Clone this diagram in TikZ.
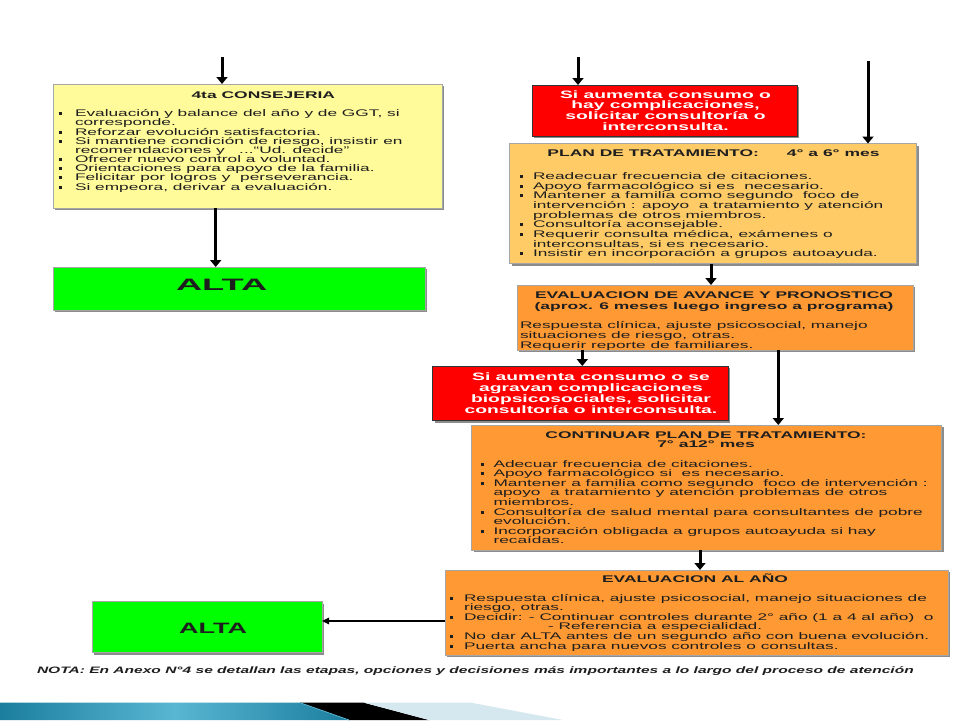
\documentclass[tikz,border=0pt]{standalone}
\usepackage{fontspec}
\setmainfont{Liberation Sans}
\newfontfamily\wf[FakeStretch=1.8]{Liberation Sans}
\newfontfamily\wfw[FakeStretch=2.2]{Liberation Sans}
\newfontfamily\wfn[FakeStretch=1.67]{Liberation Sans}
\usetikzlibrary{arrows.meta,shadows}
\definecolor{yel}{HTML}{FFFA9A}
\definecolor{lor}{HTML}{FFCB66}
\definecolor{org}{HTML}{FF9933}
\definecolor{rd}{HTML}{FF0000}
\definecolor{grn}{HTML}{00FF00}
\definecolor{txt}{HTML}{1E1E1E}
\definecolor{teal1}{HTML}{1C7E9E}
\definecolor{teal2}{HTML}{58B6D2}
\definecolor{pale}{HTML}{D6E8EF}
\newcommand\bul[1]{\makebox[#1][l]{\rule[1.4pt]{3.2pt}{3pt}}}
\newcommand\cnt[1]{\hspace*{#1}}
\newcommand\bodyfont{\wf\fontsize{9.6}{9.6}\selectfont}
\begin{document}
\begin{tikzpicture}[x=1pt,y=-1pt,
  box/.style={anchor=north west, inner sep=0, outer sep=0, draw=gray!70, line width=0.8pt,
    drop shadow={shadow xshift=2.2pt, shadow yshift=-2.2pt, fill=black, opacity=0.45}},
  redbox/.style={box, fill=rd, draw=black!80},
  txtn/.style={inner sep=0, outer sep=0, anchor=base west, text=txt, font=\bodyfont},
  ttl/.style={inner sep=0, outer sep=0, anchor=base, text=txt,
    font=\wf\bfseries\fontsize{9.7}{9.7}\selectfont},
  redtxt/.style={inner sep=0, outer sep=0, anchor=base, text=white,
    font=\wf\bfseries\fontsize{10.7}{10.8}\selectfont},
  arr/.style={line width=3pt, -{Triangle[width=11pt,length=7pt]}},
  thinarr/.style={line width=1.3pt, -{Triangle[width=6.5pt,length=7pt]}}]
\useasboundingbox (0,0) rectangle (960,720);
\fill[white] (0,0) rectangle (960,720);

% ---------- boxes ----------
\node[box, fill=yel, minimum width=389pt, minimum height=124pt] (cons) at (53,84) {};
\node[box, fill=grn, minimum width=372pt, minimum height=43pt] (altaA) at (53,267) {};
\node[redbox, minimum width=265pt, minimum height=51pt] (red1) at (532,85) {};
\node[box, fill=lor, minimum width=407pt, minimum height=120pt] (plan) at (509.5,143.5) {};
\node[box, fill=org, minimum width=396pt, minimum height=65pt] (eval) at (517,285) {};
\node[redbox, minimum width=295.5pt, minimum height=54.5pt] (red2) at (432.7,366) {};
\node[box, fill=org, minimum width=470pt, minimum height=125pt] (cont) at (471.7,425) {};
\node[box, fill=org, minimum width=503pt, minimum height=85pt] (evano) at (445,570) {};
\node[box, fill=grn, minimum width=230pt, minimum height=51pt] (altaB) at (92,601.7) {};

% ---------- texts ----------
\node[ttl] (consT) at (263.3,98.5) {4ta CONSEJERIA};
\node[txtn] (consB) at (58.5,116.2) {\parbox[t]{400pt}{\fontsize{9.6}{9.05}\selectfont
\bul{16.5pt}Evaluación y balance del año y de GGT, si\\
\cnt{16.5pt}corresponde.\\
\bul{16.5pt}Reforzar evolución satisfactoria.\\
\bul{16.5pt}Si mantiene condición de riesgo, insistir en\\
\cnt{16.5pt}recomendaciones y \ \ ...“Ud. decide”\\
\bul{16.5pt}Ofrecer nuevo control a voluntad.\\
\bul{16.5pt}Orientaciones para apoyo de la familia.\\
\bul{16.5pt}Felicitar por logros y \ perseverancia.\\
\bul{16.5pt}Si empeora, derivar a evaluación.}};

\node[inner sep=0, anchor=center, text=txt, font=\wfw\bfseries\fontsize{16.5}{16.5}\selectfont] (altaAT) at (221.7,284.5) {ALTA};

\node[redtxt] (red1T) at (665.5,98) {\parbox[t]{300pt}{\centering\fontsize{10.7}{10.8}\selectfont
Si aumenta consumo o\\hay complicaciones,\\solicitar consultoría o\\interconsulta.}};

\node[ttl] (planT) at (713.5,156.5) {PLAN DE TRATAMIENTO:\hspace{28pt}4° a 6° mes};
\node[txtn] (planB) at (520,179.5) {\parbox[t]{400pt}{\fontsize{9.6}{9.66}\selectfont
\bul{13pt}Readecuar frecuencia de citaciones.\\
\bul{13pt}Apoyo farmacológico si es \ necesario.\\
\bul{13pt}Mantener a familia como segundo \ foco de\\
\cnt{13pt}intervención : apoyo \ a tratamiento y atención\\
\cnt{13pt}problemas de otros miembros.\\
\bul{13pt}Consultoría aconsejable.\\
\bul{13pt}Requerir consulta médica, exámenes o\\
\cnt{13pt}interconsultas, si es necesario.\\
\bul{13pt}Insistir en incorporación a grupos autoayuda.}};

\node[ttl] (evalT) at (714,298.5) {\parbox[t]{390pt}{\centering\fontsize{9.7}{11}\selectfont
EVALUACION DE AVANCE Y PRONOSTICO\\(aprox. 6 meses luego ingreso a programa)}};
\node[txtn] (evalB) at (520,328.5) {\parbox[t]{390pt}{\fontsize{9.6}{10}\selectfont
Respuesta clínica, ajuste psicosocial, manejo\\
situaciones de riesgo, otras.\\
Requerir reporte de familiares.}};

\node[redtxt] (red2T) at (591,380.5) {\parbox[t]{300pt}{\centering\fontsize{10.7}{11.1}\selectfont
Si aumenta consumo o se\\agravan complicaciones\\biopsicosociales, solicitar\\consultoría o interconsulta.}};

\node[ttl] (contT) at (706,438.5) {\parbox[t]{460pt}{\centering\fontsize{9.7}{9}\selectfont
CONTINUAR PLAN DE TRATAMIENTO:\\7° a12° mes}};
\node[txtn] (contB) at (480.5,467) {\parbox[t]{460pt}{\fontsize{9.6}{9.6}\selectfont
\bul{13pt}Adecuar frecuencia de citaciones.\\
\bul{13pt}Apoyo farmacológico si \ es necesario.\\
\bul{13pt}Mantener a familia como segundo \ foco de intervención :\\
\cnt{13pt}apoyo \ a tratamiento y atención problemas de otros\\
\cnt{13pt}miembros.\\
\bul{13pt}Consultoría de salud mental para consultantes de pobre\\
\cnt{13pt}evolución.\\
\bul{13pt}Incorporación obligada a grupos autoayuda si hay\\
\cnt{13pt}recaídas.}};

\node[ttl] (evanoT) at (695,582.5) {EVALUACION AL AÑO};
\node[txtn] (evanoB) at (450,601) {\parbox[t]{495pt}{\fontsize{9.6}{9.6}\selectfont
\bul{14pt}Respuesta clínica, ajuste psicosocial, manejo situaciones de\\
\cnt{14pt}riesgo, otras.\\
\bul{14pt}Decidir: - Continuar controles durante 2° año (1 a 4 al año) \ o\\
\cnt{98pt}- Referencia a especialidad.\\
\bul{14pt}No dar ALTA antes de un segundo año con buena evolución.\\
\bul{14pt}Puerta ancha para nuevos controles o consultas.}};

\node[inner sep=0, anchor=center, text=txt, font=\wf\bfseries\fontsize{15}{15}\selectfont] (altaBT) at (213,628.5) {ALTA};

\node[txtn, font=\wfn\bfseries\itshape\fontsize{9.3}{9.3}\selectfont] (nota) at (37,673.5) {NOTA: En Anexo N°4 se detallan las etapas, opciones y decisiones más importantes a lo largo del proceso de atención};

% ---------- connectors ----------
\coordinate (inA) at (222,57);
\coordinate (inR) at (578,57);
\coordinate (inP) at (868,61);
\coordinate (xa) at (215.7,0);
\coordinate (xb) at (711,0);
\coordinate (xc) at (582.3,0);
\coordinate (xd) at (778.3,0);
\coordinate (xe) at (700,0);
\coordinate (yb) at (0,621);
\draw[arr] (inA) -- (inA |- cons.north);
\draw[arr] (inR) -- (inR |- red1.north);
\draw[arr] (inP) -- (inP |- plan.north);
\draw[arr] (cons.south -| xa) -- (altaA.north -| xa);
\draw[arr] (plan.south -| xb) -- (eval.north -| xb);
\draw[arr] (eval.south -| xc) -- (red2.north -| xc);
\draw[arr] (eval.south -| xd) -- (cont.north -| xd);
\draw[arr] (cont.south -| xe) -- (evano.north -| xe);
\draw[thinarr] (evano.west |- yb) -- (altaB.east |- yb);

% ---------- bottom banner ----------
\shade[left color=teal1, right color=teal1, middle color=teal2] (0,702.7) -- (300,702.7) -- (349,720) -- (0,720) -- cycle;
\fill[black] (300,702.7) -- (364,702.7) -- (429,720) -- (349,720) -- cycle;
\draw[teal2, line width=0.8pt] (300,702.7) -- (349,720);
\fill[pale] (364,702.7) -- (471,702.7) -- (563,720) -- (429,720) -- cycle;
\end{tikzpicture}
\end{document}
